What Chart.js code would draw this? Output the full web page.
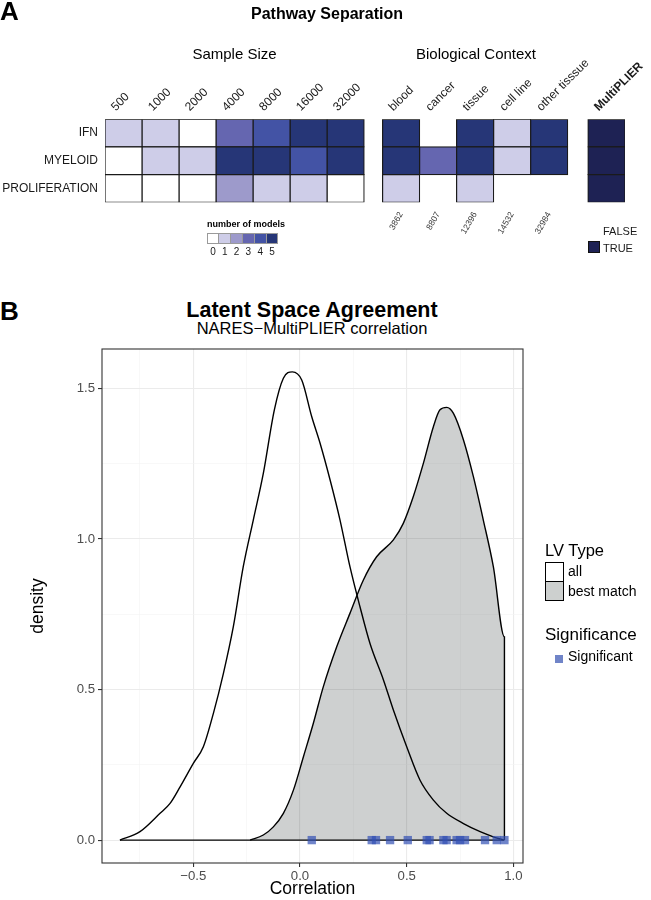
<!DOCTYPE html>
<html>
<head>
<meta charset="utf-8">
<script src="https://cdn.jsdelivr.net/npm/chart.js@4.4.1/dist/chart.umd.min.js"></script>
<style>
body { margin: 0; background: #fff; font-family: 'Liberation Sans', Arial, sans-serif; color: #000; }
#page { position: relative; width: 651px; height: 900px; overflow: hidden; }
canvas { position: absolute; left: 0; }
.t { position: absolute; white-space: nowrap; line-height: 1; }
.b { position: absolute; box-sizing: border-box; }
</style>
</head>
<body>
<div id="page">
  <canvas id="heat" width="651" height="262" style="top:0"></canvas>
  <canvas id="dens" width="651" height="560" style="top:340px"></canvas>
</div>
<script>
// ---- panel A data ----
var sampleSizes = ['500', '1000', '2000', '4000', '8000', '16000', '32000'];
var contexts = ['blood', 'cancer', 'tissue', 'cell line', 'other tisssue'];
var contextCounts = ['3862', '8807', '12396', '14532', '32984'];
var pathways = ['IFN', 'MYELOID', 'PROLIFERATION'];
// number of models, one row per pathway
var sizeModels = [
  [1, 1, 0, 3, 4, 5, 5],
  [0, 1, 1, 5, 5, 4, 5],
  [0, 0, 0, 2, 1, 1, 0]
];
var contextModels = [
  [5, null, 5, 1, 5],
  [5, 3, 5, 1, 5],
  [1, null, 1, null, null]
];
var multiplierSep = [true, true, true];

// ---- panel B data ----
var allX = [-0.844, -0.75, -0.656, -0.609, -0.562, -0.5, -0.453, -0.406, -0.359, -0.3125, -0.266, -0.219,
  -0.172, -0.12, -0.078, -0.036, 0.008, 0.055, 0.094, 0.141, 0.1875, 0.234, 0.281, 0.328, 0.391, 0.4375,
  0.5, 0.5625, 0.625, 0.6875, 0.766, 0.844, 0.906, 0.955];
var allY = [0, 0.028, 0.089, 0.122, 0.177, 0.255, 0.31, 0.421, 0.554, 0.709, 0.908, 1.063,
  1.218, 1.43, 1.534, 1.555, 1.528, 1.406, 1.318, 1.196, 1.063, 0.908, 0.775, 0.653, 0.532, 0.432,
  0.31, 0.199, 0.133, 0.089, 0.055, 0.028, 0.011, 0];
var bestX = [-0.234, -0.172, -0.125, -0.078, -0.031, 0.016, 0.0625, 0.109, 0.172, 0.234, 0.297, 0.359,
  0.4375, 0.484, 0.531, 0.578, 0.625, 0.656, 0.6875, 0.719, 0.766, 0.8125, 0.859, 0.906, 0.958, 0.958];
var bestY = [0, 0.017, 0.044, 0.089, 0.166, 0.277, 0.388, 0.509, 0.642, 0.753, 0.864, 0.941,
  0.997, 1.052, 1.141, 1.251, 1.373, 1.429, 1.437, 1.417, 1.329, 1.207, 1.063, 0.908, 0.675, 0];
var sigCorr = [0.055, 0.336, 0.356, 0.422, 0.505, 0.594, 0.607, 0.672, 0.687, 0.734, 0.75, 0.773, 0.867, 0.922, 0.958];

var family = "'Liberation Sans', Arial, sans-serif";
var modelColors = ['#ffffff', '#cecde8', '#9d9acb', '#6566b0', '#4353a5', '#263677'];
var trueColor = '#1e2254';
var page = document.getElementById('page');

function txt(s, x, base, size, o) {
  o = o || {};
  var d = document.createElement('div');
  d.className = 't';
  d.textContent = s;
  d.style.fontSize = size + 'px';
  d.style.fontWeight = o.bold ? 'bold' : 'normal';
  d.style.top = (base - 0.8465 * size) + 'px';
  d.style.left = x + 'px';
  if (o.mid) d.style.transform = 'translateX(-50%)';
  if (o.color) d.style.color = o.color;
  page.appendChild(d);
}
function box(x, y, w, h, bg, border) {
  var d = document.createElement('div');
  d.className = 'b';
  d.style.left = x + 'px'; d.style.top = y + 'px';
  d.style.width = w + 'px'; d.style.height = h + 'px';
  d.style.background = bg;
  if (border) d.style.border = border;
  page.appendChild(d);
}

// heatmap columns, three blocks side by side
var columns = [];
sampleSizes.forEach(function (s, i) {
  columns.push({ label: s, start: i, vals: sizeModels.map(function (r) { return r[i]; }) });
});
contexts.forEach(function (c, i) {
  columns.push({ label: c, start: 7.5 + i, count: contextCounts[i], vals: contextModels.map(function (r) { return r[i]; }) });
});
columns.push({ label: 'MultiPLIER', start: 13.05, tf: true, vals: multiplierSep });
var ctxCols = columns.filter(function (c) { return c.count; });

var heatSets = columns.map(function (c) {
  return {
    data: c.vals.map(function (v) { return v === null ? null : [c.start, c.start + 1]; }),
    backgroundColor: c.vals.map(function (v) {
      if (c.tf) return v ? trueColor : '#ffffff';
      return v === null ? 'rgba(0,0,0,0)' : modelColors[v];
    }),
    borderColor: '#1a1a1a',
    borderWidth: 1.2,
    borderSkipped: false,
    inflateAmount: 0.6,
    grouped: false,
    categoryPercentage: 1,
    barPercentage: 1
  };
});

new Chart(document.getElementById('heat'), {
  type: 'bar',
  data: { labels: pathways, datasets: heatSets },
  options: {
    indexAxis: 'y',
    responsive: false,
    animation: false,
    layout: { padding: { left: 0, right: 26, top: 0, bottom: 0 } },
    plugins: { legend: { display: false }, tooltip: { enabled: false } },
    scales: {
      y: {
        type: 'category',
        grid: { display: false, drawTicks: false },
        border: { display: false },
        ticks: { font: { family: family, size: 12 }, color: '#1a1a1a', padding: 7 },
        afterFit: function (s) { s.width = 105; s.paddingTop = 0; s.paddingBottom = 0; }
      },
      x: {
        type: 'linear', position: 'top', min: 0, max: 14.05,
        grid: { display: false, drawTicks: false },
        border: { display: false },
        afterBuildTicks: function (s) { s.ticks = columns.map(function (c) { return { value: c.start + 0.5 }; }); },
        ticks: {
          autoSkip: false, minRotation: 45, maxRotation: 45, padding: 5, color: '#1a1a1a',
          font: function (c) {
            var col = columns[c.index];
            return { family: family, size: 12, weight: col && col.tf ? 'bold' : 'normal' };
          },
          callback: function (v, i) { return columns[i].label; }
        },
        afterFit: function (s) { s.height = 119.3; s.paddingLeft = 0; s.paddingRight = 0; }
      },
      x2: {
        type: 'linear', position: 'bottom', min: 0, max: 14.05,
        grid: { display: false, drawTicks: false },
        border: { display: false },
        afterBuildTicks: function (s) { s.ticks = ctxCols.map(function (c) { return { value: c.start + 0.5 }; }); },
        ticks: {
          autoSkip: false, minRotation: 60, maxRotation: 60, padding: 8, color: '#333',
          font: { family: family, size: 8.5 },
          callback: function (v, i) { return ctxCols[i].count; }
        },
        afterFit: function (s) { s.height = 262 - 202.3; s.paddingLeft = 0; s.paddingRight = 0; }
      }
    }
  }
});

// ---- panel B chart ----
function xy(xs, ys) { return xs.map(function (x, i) { return { x: x, y: ys[i] }; }); }
function isMajor(v) { return Math.abs(Math.round(v * 4)) % 2 === 0; }
function fmt(v) { return (v < 0 ? '\u2212' : '') + Math.abs(v).toFixed(1); }

var panelBorder = {
  id: 'panelBorder',
  afterDatasetsDraw: function (chart) {
    var a = chart.chartArea, ctx = chart.ctx;
    ctx.save();
    ctx.strokeStyle = '#333';
    ctx.lineWidth = 1.1;
    ctx.strokeRect(a.left, a.top, a.right - a.left, a.bottom - a.top);
    ctx.restore();
  }
};

var gridOpts = {
  color: function (c) { return isMajor(c.tick.value) ? '#ebebeb' : '#f4f4f4'; },
  lineWidth: function (c) { return isMajor(c.tick.value) ? 1.1 : 0.6; },
  tickLength: 4,
  tickColor: function (c) { return isMajor(c.tick.value) ? '#333' : 'rgba(0,0,0,0)'; }
};

new Chart(document.getElementById('dens'), {
  type: 'scatter',
  data: {
    datasets: [
      { label: 'Significant', data: sigCorr.map(function (x) { return { x: x, y: 0 }; }),
        pointStyle: 'rect', pointRadius: 5.9, pointHoverRadius: 5.9,
        backgroundColor: 'rgba(50,80,180,0.7)', borderWidth: 0, order: 0 },
      { label: 'all', data: xy(allX, allY), showLine: true, pointRadius: 0,
        borderColor: '#000', borderWidth: 1.4, fill: false, cubicInterpolationMode: 'monotone', order: 1 },
      { label: 'baseline', data: [{ x: allX[0], y: 0 }, { x: bestX[bestX.length - 1], y: 0 }],
        showLine: true, pointRadius: 0, borderColor: '#000', borderWidth: 1.4, order: 2 },
      { label: 'best match', data: xy(bestX, bestY), showLine: true, pointRadius: 0,
        borderColor: '#000', borderWidth: 1.4, fill: 'origin', backgroundColor: 'rgba(30,40,40,0.22)',
        cubicInterpolationMode: 'monotone', order: 3 }
    ]
  },
  options: {
    responsive: false,
    animation: false,
    layout: { padding: { left: 0, right: 128, top: 9, bottom: 0 } },
    plugins: { legend: { display: false }, tooltip: { enabled: false } },
    scales: {
      x: {
        type: 'linear', min: -0.928, max: 1.045,
        grid: gridOpts,
        border: { display: false },
        ticks: {
          stepSize: 0.25, includeBounds: false, autoSkip: false, maxRotation: 0, padding: 1,
          color: '#4d4d4d', font: { family: family, size: 13.2 },
          callback: function (v) { return isMajor(v) ? fmt(v) : ''; }
        },
        title: { display: true, text: 'Correlation', color: '#000', font: { family: family, size: 17.5 }, padding: { top: 0, bottom: 0 } },
        afterFit: function (s) { s.height = 37; s.paddingLeft = 0; s.paddingRight = 0; }
      },
      y: {
        type: 'linear', min: -0.076, max: 1.631,
        grid: gridOpts,
        border: { display: false },
        ticks: {
          stepSize: 0.25, includeBounds: false, autoSkip: false, padding: 3,
          color: '#4d4d4d', font: { family: family, size: 13.2 },
          callback: function (v) { return isMajor(v) ? fmt(v) : ''; }
        },
        title: { display: true, text: 'density', color: '#000', font: { family: family, size: 17.5 }, padding: { top: 27.5, bottom: 0 } },
        afterFit: function (s) { s.width = 102; s.paddingTop = 0; s.paddingBottom = 0; }
      }
    }
  },
  plugins: [panelBorder]
});

// ---- texts and legends ----
txt('A', 0, 20, 26, { bold: true });
txt('Pathway Separation', 327, 20, 16, { bold: true, mid: true });
txt('Sample Size', 234.5, 58.5, 15, { mid: true });
txt('Biological Context', 476, 58.5, 15, { mid: true });

txt('number of models', 207, 227.5, 9, { bold: true });
var cw = 11.77;
modelColors.forEach(function (c, i) {
  box(206.7 + i * cw, 232.7, cw + 1, 11.5, c, '1px solid #9a9a9a');
  txt(String(i), 206.7 + (i + 0.5) * cw + 0.5, 255, 10, { mid: true, color: '#1a1a1a' });
});
txt('FALSE', 603, 235, 11, { color: '#1a1a1a' });
box(588.3, 241, 11.7, 11.7, trueColor, '0.5px solid #111');
txt('TRUE', 603, 252, 11, { color: '#1a1a1a' });

txt('B', 0, 320, 26, { bold: true });
txt('Latent Space Agreement', 312, 318, 21.5, { bold: true, mid: true });
txt('NARES\u2212MultiPLIER correlation', 312, 334, 16.5, { mid: true });

txt('LV Type', 545, 556, 16.5);
box(545, 562, 19, 20, '#ffffff', '1.5px solid #000');
box(545, 581, 19, 20, '#cdd0cf', '1.5px solid #000');
txt('all', 568, 575.5, 14);
txt('best match', 568, 595.5, 14);
txt('Significance', 545, 640, 17);
box(555, 655, 7.5, 7.5, 'rgb(112,132,200)');
txt('Significant', 568, 660.5, 14);
</script>
</body>
</html>
